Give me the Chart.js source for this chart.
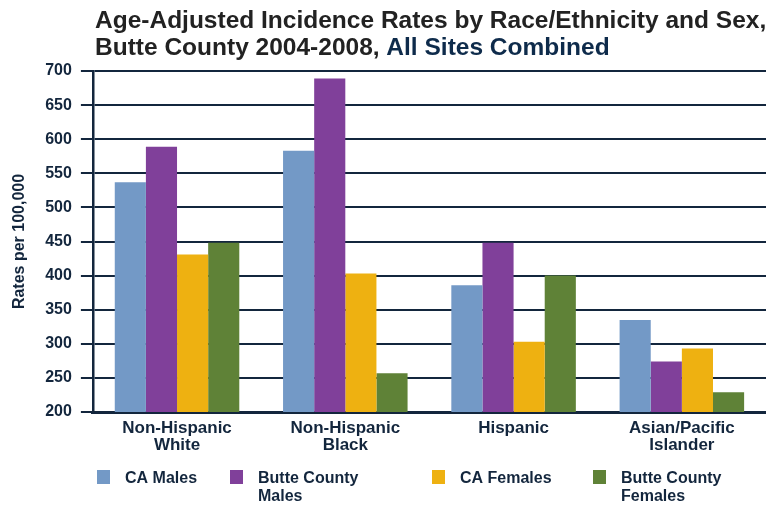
<!DOCTYPE html>
<html>
<head>
<meta charset="utf-8">
<script src="https://cdn.jsdelivr.net/npm/chart.js@4/dist/chart.umd.min.js"></script>
<style>
  html, body { margin: 0; padding: 0; background: #fff; }
  #wrap { width: 766px; height: 506px; position: relative; }
</style>
</head>
<body>
<div id="wrap"><canvas id="chart" width="766" height="506"></canvas></div>
<script>
// categories + series
const categories = [['Non-Hispanic', 'White'], ['Non-Hispanic', 'Black'], ['Hispanic'], ['Asian/Pacific', 'Islander']]
const caMales = [537, 583, 386, 335]
const butteMales = [589, 689, 448, 274]
const caFemales = [431, 403, 303, 293]
const butteFemales = [448, 257, 400, 229]
const seriesNames = [['CA Males'], ['Butte County', 'Males'], ['CA Females'], ['Butte County', 'Females']]
const yTicks = [200, 250, 300, 350, 400, 450, 500, 550, 600, 650, 700]

const navy = '#13263d'
const colors = ['#7399c6', '#80409a', '#eeb111', '#5f8237']
const font = '"Liberation Sans", Arial, sans-serif'

// title + legend drawn on the canvas
const extras = {
    id: 'extras',
    afterDraw(chart) {
        const ctx = chart.ctx
        ctx.save()
        ctx.textBaseline = 'alphabetic'
        ctx.font = 'bold 24.5px ' + font
        ctx.fillStyle = '#222'
        ctx.fillText('Age-Adjusted Incidence Rates by Race/Ethnicity and Sex,', 95, 28)
        const part = 'Butte County 2004-2008, '
        ctx.fillText(part, 95, 55)
        ctx.fillStyle = '#0e2b4b'
        ctx.fillText('All Sites Combined', 95 + ctx.measureText(part).width, 55)

        //legend
        const boxX = [97, 230, 432, 593]
        ctx.font = 'bold 16px ' + font
        chart.data.datasets.forEach((ds, i) => {
            ctx.fillStyle = ds.backgroundColor
            ctx.fillRect(boxX[i], 470, 13, 14)
            ctx.fillStyle = navy
            seriesNames[i].forEach((line, j) => {
                ctx.fillText(line, boxX[i] + 28, 483 + j * 18)
            })
        })
        ctx.restore()
    }
}

new Chart(document.getElementById('chart'), {
    type: 'bar',
    data: {
        labels: categories,
        datasets: [
            { label: 'CA Males', data: caMales, backgroundColor: colors[0] },
            { label: 'Butte County Males', data: butteMales, backgroundColor: colors[1] },
            { label: 'CA Females', data: caFemales, backgroundColor: colors[2] },
            { label: 'Butte County Females', data: butteFemales, backgroundColor: colors[3] }
        ]
    },
    options: {
        responsive: false,
        animation: false,
        layout: { padding: { top: 71, bottom: 44, left: 4, right: 0 } },
        datasets: { bar: { categoryPercentage: 0.74, barPercentage: 1 } },
        plugins: {
            legend: { display: false },
            tooltip: { enabled: false }
        },
        scales: {
            x: {
                grid: { display: false, drawTicks: false },
                border: { color: navy, width: 3 },
                ticks: {
                    color: navy,
                    padding: 8,
                    font: { family: font, size: 17, weight: 'bold', lineHeight: 1.0 }
                }
            },
            y: {
                min: 200,
                max: 700,
                afterBuildTicks: axis => { axis.ticks = yTicks.map(v => ({ value: v })) },
                grid: { color: navy, lineWidth: 2, tickLength: 12 },
                border: { color: navy, width: 2.5 },
                ticks: {
                    color: navy,
                    padding: 9,
                    font: { family: font, size: 16, weight: 'bold' }
                },
                title: {
                    display: true,
                    text: 'Rates per 100,000',
                    color: navy,
                    padding: { top: 6, bottom: 7 },
                    font: { family: font, size: 16, weight: 'bold' }
                }
            }
        }
    },
    plugins: [extras]
})
</script>
</body>
</html>
